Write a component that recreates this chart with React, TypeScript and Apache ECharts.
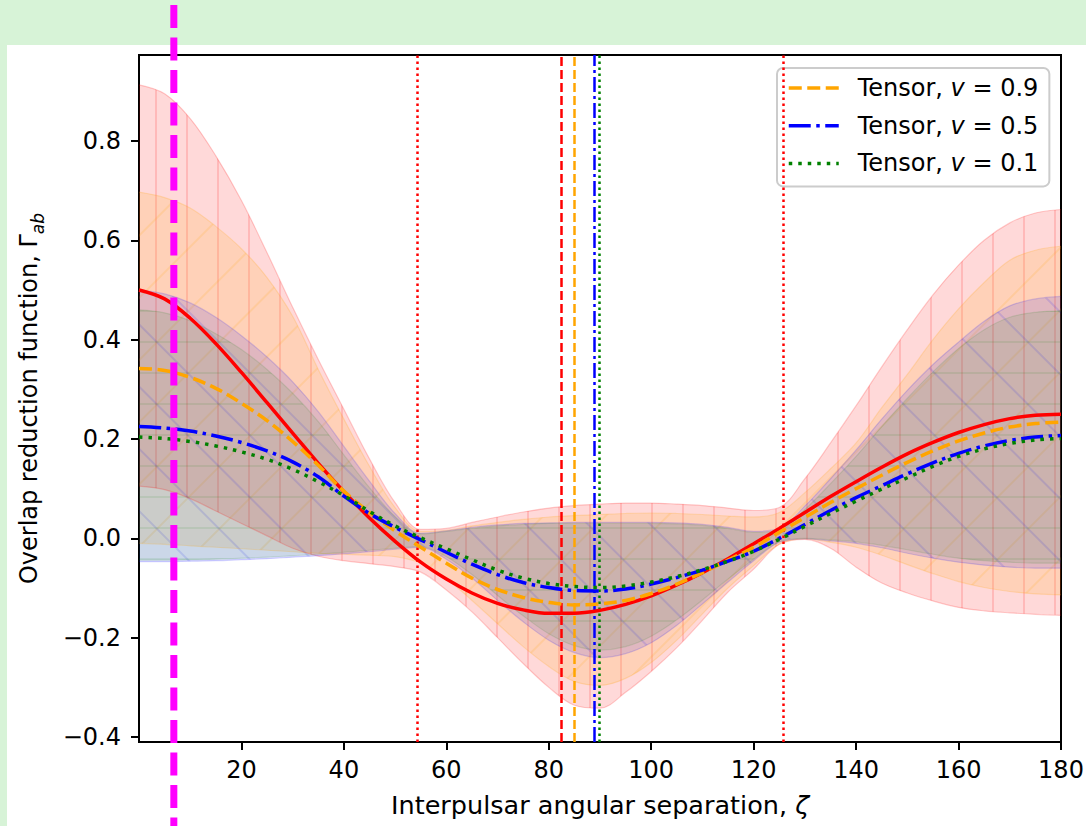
import React, { useEffect, useRef } from 'react';
import * as echarts from 'echarts';

const FONT = 'DejaVu Sans';

// angular separation samples (degrees)
const ZETA = [0, 5, 10, 15, 20, 25, 30, 35, 40, 45, 50, 55, 60, 65, 70, 75, 80, 85, 90, 95, 100, 105, 110, 115, 120, 125, 130, 135, 140, 145, 150, 155, 160, 165, 170, 175, 180];

// mean curves
const GR_MEAN = [0.500, 0.482, 0.443, 0.392, 0.334, 0.273, 0.212, 0.151, 0.094, 0.041, -0.006, -0.048, -0.082, -0.110, -0.131, -0.144, -0.151, -0.151, -0.145, -0.133, -0.116, -0.094, -0.069, -0.041, -0.011, 0.020, 0.052, 0.084, 0.114, 0.143, 0.170, 0.193, 0.213, 0.229, 0.241, 0.248, 0.250];
const V09_MEAN = [0.342, 0.338, 0.324, 0.302, 0.272, 0.237, 0.195, 0.147, 0.095, 0.052, 0.015, -0.018, -0.050, -0.080, -0.103, -0.119, -0.129, -0.134, -0.132, -0.125, -0.111, -0.092, -0.069, -0.044, -0.018, 0.012, 0.042, 0.072, 0.100, 0.127, 0.153, 0.176, 0.196, 0.212, 0.224, 0.231, 0.234];
const V05_MEAN = [0.225, 0.222, 0.216, 0.206, 0.193, 0.176, 0.154, 0.124, 0.085, 0.050, 0.022, -0.003, -0.028, -0.052, -0.073, -0.089, -0.099, -0.105, -0.106, -0.102, -0.092, -0.079, -0.064, -0.046, -0.026, 0.000, 0.028, 0.056, 0.082, 0.106, 0.130, 0.152, 0.171, 0.186, 0.197, 0.204, 0.207];
const V01_MEAN = [0.204, 0.201, 0.195, 0.186, 0.174, 0.159, 0.139, 0.114, 0.086, 0.054, 0.025, 0.001, -0.021, -0.043, -0.064, -0.080, -0.091, -0.097, -0.099, -0.096, -0.088, -0.077, -0.063, -0.046, -0.026, -0.002, 0.024, 0.050, 0.075, 0.099, 0.122, 0.145, 0.165, 0.180, 0.191, 0.198, 0.201];

// uncertainty bands
const GR_UPPER = [0.913, 0.895, 0.845, 0.770, 0.680, 0.575, 0.465, 0.360, 0.260, 0.160, 0.072, 0.018, 0.020, 0.032, 0.043, 0.053, 0.061, 0.066, 0.069, 0.071, 0.071, 0.069, 0.066, 0.061, 0.056, 0.062, 0.120, 0.192, 0.267, 0.345, 0.420, 0.490, 0.550, 0.600, 0.635, 0.655, 0.662];
const GR_LOWER = [0.105, 0.098, 0.080, 0.055, 0.030, 0.005, -0.020, -0.036, -0.045, -0.051, -0.057, -0.068, -0.104, -0.148, -0.200, -0.252, -0.300, -0.336, -0.342, -0.310, -0.268, -0.220, -0.165, -0.108, -0.062, -0.012, -0.002, -0.020, -0.058, -0.090, -0.110, -0.126, -0.139, -0.146, -0.150, -0.153, -0.155];
const V09_UPPER = [0.697, 0.686, 0.665, 0.628, 0.583, 0.525, 0.447, 0.340, 0.240, 0.145, 0.062, 0.014, 0.016, 0.025, 0.032, 0.038, 0.043, 0.046, 0.048, 0.050, 0.051, 0.050, 0.048, 0.045, 0.043, 0.052, 0.092, 0.140, 0.192, 0.263, 0.330, 0.400, 0.462, 0.515, 0.560, 0.580, 0.588];
const V09_LOWER = [-0.010, -0.012, -0.015, -0.018, -0.021, -0.024, -0.027, -0.030, -0.032, -0.034, -0.037, -0.050, -0.082, -0.125, -0.172, -0.218, -0.258, -0.288, -0.296, -0.282, -0.250, -0.205, -0.152, -0.100, -0.055, -0.012, -0.001, -0.008, -0.018, -0.034, -0.053, -0.071, -0.087, -0.099, -0.107, -0.112, -0.114];
const V05_UPPER = [0.500, 0.492, 0.474, 0.445, 0.408, 0.365, 0.315, 0.255, 0.185, 0.115, 0.050, 0.010, 0.015, 0.022, 0.027, 0.030, 0.031, 0.032, 0.032, 0.032, 0.032, 0.031, 0.028, 0.022, 0.014, 0.020, 0.065, 0.120, 0.178, 0.240, 0.298, 0.350, 0.395, 0.437, 0.468, 0.482, 0.487];
const V05_LOWER = [-0.047, -0.047, -0.046, -0.045, -0.043, -0.041, -0.038, -0.035, -0.031, -0.027, -0.022, -0.018, -0.042, -0.080, -0.125, -0.168, -0.205, -0.230, -0.240, -0.232, -0.210, -0.175, -0.132, -0.088, -0.045, -0.008, -0.001, -0.005, -0.010, -0.019, -0.030, -0.040, -0.048, -0.054, -0.058, -0.060, -0.060];
const V01_UPPER = [0.460, 0.454, 0.438, 0.412, 0.380, 0.340, 0.292, 0.235, 0.168, 0.102, 0.044, 0.009, 0.014, 0.020, 0.025, 0.028, 0.030, 0.030, 0.030, 0.030, 0.030, 0.029, 0.026, 0.020, 0.012, 0.016, 0.058, 0.110, 0.165, 0.225, 0.282, 0.335, 0.382, 0.420, 0.445, 0.455, 0.458];
const V01_LOWER = [-0.044, -0.044, -0.043, -0.042, -0.040, -0.038, -0.035, -0.032, -0.028, -0.024, -0.020, -0.016, -0.037, -0.073, -0.115, -0.156, -0.192, -0.216, -0.225, -0.218, -0.197, -0.164, -0.124, -0.082, -0.042, -0.007, 0.000, -0.003, -0.007, -0.014, -0.023, -0.032, -0.040, -0.045, -0.048, -0.050, -0.050];

// axes ticks
const X_TICKS = [20, 40, 60, 80, 100, 120, 140, 160, 180];
const Y_TICKS = [-0.4, -0.2, 0.0, 0.2, 0.4, 0.6, 0.8];

// legend / series names
const SERIES_NAMES = ['Tensor, v = 0.9', 'Tensor, v = 0.5', 'Tensor, v = 0.1'];

// vertical reference lines (degrees)
const GR_DOTTED_LINES = [54.3, 125.8];
const GR_MIN_LINE = 82.5;
const V09_MIN_LINE = 85.0;
const V05_MIN_LINE = 88.8;
const V01_MIN_LINE = 89.9;
const MARKER_ZETA = 6.8;

const RED = '#ff0000';
const ORANGE = '#ffa500';
const BLUE = '#0000ff';
const GREEN = '#008000';

const DASHED = [13, 5.5];
const DASHDOT = [22, 5.5, 3.5, 5.5];
const DOTTED = [3.5, 6];

export default function App() {
  const ref = useRef<HTMLDivElement>(null);

  useEffect(() => {
    const el = ref.current as HTMLDivElement;
    const chart = echarts.init(el, null, { renderer: 'svg' });

    const pairs = (ys: number[]) => ZETA.map((x, i) => [x, ys[i]]);
    const spans = (lo: number[], up: number[]) => lo.map((v, i) => +(up[i] - v).toFixed(4));

    // bands drawn on a hidden category axis sharing the grid (stacking by index)
    const band = (key: string, color: string, alpha: number, lo: number[], up: number[], decal: any) => [
      {
        type: 'line', name: key + '-lo', xAxisIndex: 1, stack: key, stackStrategy: 'all', data: lo,
        symbol: 'none', smooth: 0.35, silent: true, z: 1,
        lineStyle: { color, width: 1.2, opacity: alpha * 1.3 }, itemStyle: { color },
      },
      {
        type: 'line', name: key + '-up', xAxisIndex: 1, stack: key, stackStrategy: 'all', data: spans(lo, up),
        symbol: 'none', smooth: 0.35, silent: true, z: 1,
        lineStyle: { color, width: 1.2, opacity: alpha * 1.3, decal }, itemStyle: { color, decal },
        areaStyle: { color, opacity: alpha },
      },
    ];

    const vline = (x: number, color: string, type: number[]) => ({ xAxis: x, lineStyle: { color, width: 2.5, type } });
    const mk = (data: any[]) => ({
      symbol: ['none', 'none'], silent: true, label: { show: false }, emphasis: { disabled: true }, data,
    });

    const fmtY = (v: number) => {
      const s = Math.abs(v).toFixed(1);
      return v < -1e-9 ? '\u2212' + s : s;
    };

    const option: any = {
      animation: false,
      backgroundColor: '#d7f3d7',
      textStyle: { fontFamily: FONT },
      grid: {
        left: 139, right: 25, top: 55, bottom: 84, outerBoundsMode: 'none',
        show: true, borderColor: '#000', borderWidth: 2, backgroundColor: 'transparent',
      },
      legend: {
        data: SERIES_NAMES,
        orient: 'vertical', left: 777, top: 68,
        itemWidth: 50, itemHeight: 14, itemGap: 9.7,
        padding: [6, 11, 9, 10],
        backgroundColor: 'rgba(255,255,255,0.8)', borderColor: '#cccccc', borderWidth: 2, borderRadius: 6,
        selectedMode: false,
        itemStyle: { opacity: 0 },
        lineStyle: { width: 3.5 },
        formatter: (n: string) => n.replace(' v ', ' {i|v} '),
        textStyle: {
          fontFamily: FONT, fontSize: 24, color: '#000', lineHeight: 28, padding: [0, 0, 0, 14],
          rich: { i: { fontFamily: FONT, fontSize: 24, fontStyle: 'italic', color: '#000' } },
        },
      },
      xAxis: [
        {
          type: 'value', min: 0, max: 180,
          axisLine: { show: true, onZero: false, lineStyle: { color: '#000', width: 2 } },
          axisTick: { show: true, length: 8, lineStyle: { color: '#000', width: 2 }, customValues: X_TICKS },
          axisLabel: { customValues: X_TICKS, color: '#000', fontSize: 24, fontFamily: FONT, margin: 16, formatter: (v: number) => String(v) },
          splitLine: { show: false },
          name: 'Interpulsar angular separation, {i|\u03b6}',
          nameLocation: 'middle', nameGap: 50,
          nameTextStyle: {
            fontFamily: FONT, fontSize: 25.5, color: '#000',
            rich: { i: { fontFamily: FONT, fontSize: 25.5, fontStyle: 'italic', color: '#000' } },
          },
        },
        {
          type: 'category', data: ZETA.map(String), boundaryGap: false, show: false,
          axisLine: { show: false }, axisTick: { show: false }, axisLabel: { show: false }, splitLine: { show: false },
        },
      ],
      yAxis: {
        type: 'value', min: -0.41, max: 0.973,
        axisLine: { show: true, onZero: false, lineStyle: { color: '#000', width: 2 } },
        axisTick: { show: true, length: 8, lineStyle: { color: '#000', width: 2 }, customValues: Y_TICKS },
        axisLabel: { customValues: Y_TICKS, color: '#000', fontSize: 24, fontFamily: FONT, margin: 18, formatter: fmtY },
        splitLine: { show: false },
        name: 'Overlap reduction function, \u0393{sub|ab}',
        nameLocation: 'middle', nameRotate: 90, nameGap: 93,
        nameTextStyle: {
          fontFamily: FONT, fontSize: 24, color: '#000', lineHeight: 34,
          rich: { sub: { fontFamily: FONT, fontSize: 17, fontStyle: 'italic', color: '#000', lineHeight: 17, verticalAlign: 'bottom' } },
        },
      },
      series: [
        ...band('gr', RED, 0.15, GR_LOWER, GR_UPPER, { symbol: 'rect', symbolSize: 1, color: RED, dashArrayX: [2, 29], dashArrayY: [4, 0], rotation: 0 }),
        ...band('v09', ORANGE, 0.15, V09_LOWER, V09_UPPER, { symbol: 'rect', symbolSize: 1, color: ORANGE, dashArrayX: [2, 42], dashArrayY: [4, 0], rotation: Math.PI / 4 }),
        ...band('v05', BLUE, 0.12, V05_LOWER, V05_UPPER, { symbol: 'rect', symbolSize: 1, color: BLUE, dashArrayX: [2, 42], dashArrayY: [4, 0], rotation: -Math.PI / 4 }),
        ...band('v01', GREEN, 0.09, V01_LOWER, V01_UPPER, { symbol: 'rect', symbolSize: 1, color: GREEN, dashArrayX: [4, 0], dashArrayY: [2, 29], rotation: 0 }),
        {
          type: 'line', name: 'GR', data: pairs(GR_MEAN), symbol: 'none', smooth: 0.35, z: 5,
          lineStyle: { color: RED, width: 3.5 }, itemStyle: { color: RED },
          markLine: mk([
            ...GR_DOTTED_LINES.map((x) => vline(x, RED, [2.5, 3.5])),
            vline(GR_MIN_LINE, RED, [9, 4]),
          ]),
        },
        {
          type: 'line', name: SERIES_NAMES[0], data: pairs(V09_MEAN), symbol: 'none', smooth: 0.35, z: 6,
          lineStyle: { color: ORANGE, width: 3.5, type: DASHED }, itemStyle: { color: ORANGE },
          markLine: mk([vline(V09_MIN_LINE, ORANGE, [9, 4])]),
        },
        {
          type: 'line', name: SERIES_NAMES[1], data: pairs(V05_MEAN), symbol: 'none', smooth: 0.35, z: 7,
          lineStyle: { color: BLUE, width: 3.5, type: DASHDOT }, itemStyle: { color: BLUE },
          markLine: mk([vline(V05_MIN_LINE, BLUE, [15, 4, 3, 4])]),
        },
        {
          type: 'line', name: SERIES_NAMES[2], data: pairs(V01_MEAN), symbol: 'none', smooth: 0.35, z: 8,
          lineStyle: { color: GREEN, width: 3.5, type: DOTTED }, itemStyle: { color: GREEN },
          markLine: mk([vline(V01_MIN_LINE, GREEN, [2.5, 3.5])]),
        },
      ],
    };

    chart.setOption(option);

    const px = chart.convertToPixel({ xAxisIndex: 0 }, MARKER_ZETA) as number;
    chart.setOption({
      graphic: {
        elements: [
          {
            type: 'rect', id: 'panel', silent: true, z: -10,
            shape: { x: 7, y: 45, width: 1079, height: 781 },
            style: { fill: '#ffffff' },
          },
          {
            type: 'line', id: 'marker', silent: true, z: 100,
            shape: { x1: px, y1: 5, x2: px, y2: 826 },
            style: { stroke: '#ff00ff', lineWidth: 7, lineDash: [23, 9.5] },
          },
        ],
      },
    });

    return () => {
      chart.dispose();
    };
  }, []);

  return (
    <div
      ref={ref}
      style={{ position: 'fixed', left: 0, top: 0, width: 1086, height: 826 }}
    />
  );
}
